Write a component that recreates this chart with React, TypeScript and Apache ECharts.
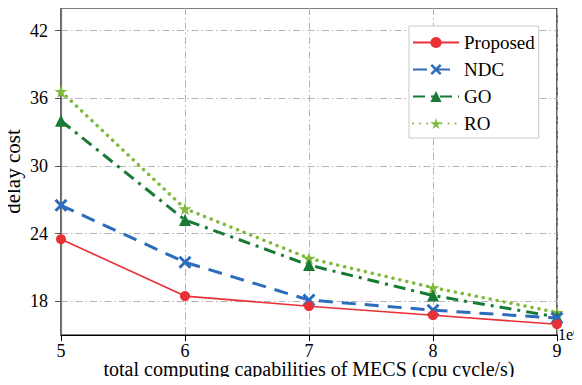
import React, { useEffect, useRef } from "react";
import * as echarts from "echarts";

const xValues = [5, 6, 7, 8, 9];
const proposed = [23.5, 18.45, 17.55, 16.75, 15.95];
const ndc = [26.5, 21.45, 18.1, 17.2, 16.5];
const go = [34.0, 25.2, 21.2, 18.5, 16.6];
const ro = [36.6, 26.2, 21.8, 19.2, 17.0];
const yTicks = [18, 24, 30, 36, 42];

const FONT = "Liberation Serif";
const xPath = "path://M0,1.6 L1.6,0 L5,3.4 L8.4,0 L10,1.6 L6.6,5 L10,8.4 L8.4,10 L5,6.6 L1.6,10 L0,8.4 L3.4,5 Z";
const starPath = "path://M50,0 L61,35 L98,35 L68,57 L79,91 L50,70 L21,91 L32,57 L2,35 L39,35 Z";

const pair = (ys: number[]) => xValues.map((x, i) => [x, ys[i]]);

export default function App() {
  const ref = useRef<HTMLDivElement>(null);
  useEffect(() => {
    const chart = echarts.init(ref.current!, null, { renderer: "svg" });
    const gridLine = { show: true, lineStyle: { color: "#b4b4b4", width: 1, type: [7, 3, 1.5, 3] as any } };
    chart.setOption({
      animation: false,
      textStyle: { fontFamily: FONT },
      grid: {
        left: 61,
        right: 25,
        top: 8,
        bottom: 50,
        show: true,
        borderColor: "#000",
        borderWidth: 1.2,
        outerBoundsMode: "none",
        containLabel: false,
      } as any,
      legend: {
        orient: "vertical",
        left: 409,
        top: 26,
        padding: [7, 4, 5, 3],
        borderColor: "#c8c8c8",
        borderWidth: 1,
        backgroundColor: "#fff",
        itemWidth: 46,
        itemHeight: 14,
        itemGap: 8,
        textStyle: { fontFamily: FONT, fontSize: 19, color: "#000" },
        data: ["Proposed", "NDC", "GO", "RO"],
      },
      xAxis: {
        type: "value",
        min: 5,
        max: 9,
        interval: 1,
        name: "total computing capabilities of MECS (cpu cycle/s)",
        nameLocation: "middle",
        nameGap: 24,
        nameMoveOverlap: false,
        nameTextStyle: { fontFamily: FONT, fontSize: 20, color: "#000" },
        axisLine: { lineStyle: { color: "#000", width: 1.2 } },
        axisTick: { show: true, length: 6, lineStyle: { color: "#000" } },
        axisLabel: { fontFamily: FONT, fontSize: 18, lineHeight: 14, color: "#000", margin: 9 },
        splitLine: gridLine,
      } as any,
      yAxis: {
        type: "value",
        min: 15,
        max: 44,
        name: "delay cost",
        nameLocation: "middle",
        nameGap: 38,
        nameMoveOverlap: false,
        nameTextStyle: { fontFamily: FONT, fontSize: 21, color: "#000" },
        axisLine: { show: true, lineStyle: { color: "#777", width: 1.2 } },
        axisTick: { show: true, length: 6, lineStyle: { color: "#555" }, customValues: yTicks },
        axisLabel: { fontFamily: FONT, fontSize: 18, color: "#000", margin: 13, customValues: yTicks },
        splitLine: gridLine,
      } as any,
      series: [
        {
          name: "Proposed",
          type: "line",
          data: pair(proposed),
          color: "#e83035",
          symbol: "circle",
          symbolSize: 10,
          lineStyle: { width: 1.6, color: "#e83035" },
          itemStyle: { color: "#e83035" },
          z: 5,
        },
        {
          name: "NDC",
          type: "line",
          data: pair(ndc),
          color: "#2c6cbc",
          symbol: xPath,
          symbolSize: 13,
          lineStyle: { width: 3, color: "#2c6cbc", type: [14, 9] as any },
          itemStyle: { color: "#2c6cbc" },
          z: 4,
        },
        {
          name: "GO",
          type: "line",
          data: pair(go),
          color: "#187a35",
          symbol: "triangle",
          symbolSize: 12,
          lineStyle: { width: 3, color: "#187a35", type: [12, 6, 3, 6] as any },
          itemStyle: { color: "#187a35" },
          z: 3,
        },
        {
          name: "RO",
          type: "line",
          data: pair(ro),
          color: "#7fba3d",
          symbol: starPath,
          symbolSize: 13,
          lineStyle: { width: 3.5, color: "#7fba3d", type: [0.1, 7] as any, cap: "round" },
          itemStyle: { color: "#7fba3d" },
          z: 2,
        },
      ],
      graphic: [
        {
          type: "text",
          left: 558,
          top: 326,
          style: { text: "1e9", fontFamily: FONT, fontSize: 16, fill: "#000" },
        },
      ],
    });
    return () => chart.dispose();
  }, []);
  return <div ref={ref} style={{ width: 582, height: 385, margin: -8 }} />;
}
